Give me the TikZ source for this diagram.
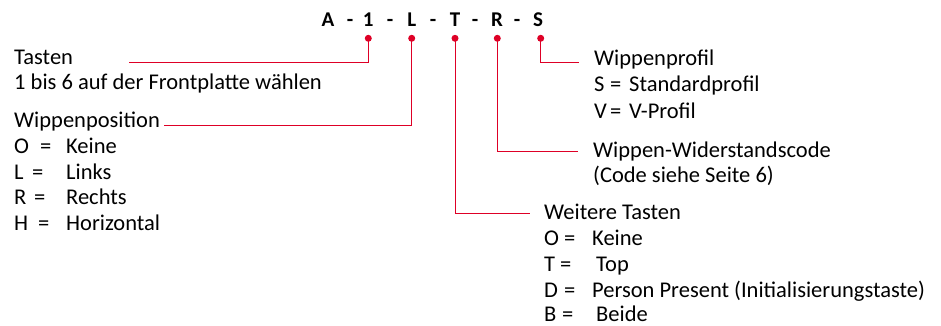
\documentclass[tikz,border=0pt]{standalone}
\usepackage{fontspec}
\setmainfont{Carlito}
\definecolor{codered}{RGB}{222,0,38}
\begin{document}
\begin{tikzpicture}[x=1pt,y=-1pt,
  txt/.style={anchor=base west, inner sep=0pt, font=\fontsize{22.5}{26}\selectfont},
  ttl/.style={anchor=base, inner sep=0pt, font=\fontsize{21}{24}\selectfont\bfseries},
  reddot/.style={circle, fill=codered, inner sep=0pt, minimum size=7pt},
  lead/.style={draw=codered, line width=1pt}]
\useasboundingbox (0,0) rectangle (941,326);
% title code
\node[ttl] (tA) at (328,27) {A};
\node[ttl] (m1) at (350,27) {-};
\node[ttl] (t1) at (368.3,27) {1};
\node[ttl] (m2) at (390,27) {-};
\node[ttl] (tL) at (411.7,27) {L};
\node[ttl] (m3) at (433,27) {-};
\node[ttl] (tT) at (455,27) {T};
\node[ttl] (m4) at (475,27) {-};
\node[ttl] (tR) at (497,27) {R};
\node[ttl] (m5) at (517,27) {-};
\node[ttl] (tS) at (538,27) {S};
% dots
\node[reddot] (d1) at (368.3,38.3) {};
\node[reddot] (d2) at (411.7,38.3) {};
\node[reddot] (d3) at (455,38.3) {};
\node[reddot] (d4) at (497.3,38.3) {};
\node[reddot] (d5) at (540.7,38.3) {};
% line ends
\coordinate (e1) at (129,62.5);
\coordinate (e2) at (164,125.5);
\coordinate (e3) at (530,213);
\coordinate (e4) at (578,151.5);
\coordinate (e5) at (579,62.5);
\draw[lead] (d1.center) |- (e1);
\draw[lead] (d2.center) |- (e2);
\draw[lead] (d3.center) |- (e3);
\draw[lead] (d4.center) |- (e4);
\draw[lead] (d5.center) |- (e5);
% left: Tasten
\node[txt] (tasten) at (14,64.5) {Tasten};
\node[txt] (tasten2) at (14,90) {1 bis 6 auf der Frontplatte wählen};
% left: Wippenposition
\node[txt] (wpos) at (14,128) {Wippenposition};
\node[txt] (wposO) at (14,153.5) {O};
\node[txt] (wposOe) at (40,153.5) {=};
\node[txt] (wposOv) at (66,153.5) {Keine};
\node[txt] (wposL) at (14,179) {L};
\node[txt] (wposLe) at (32,179) {=};
\node[txt] (wposLv) at (66,179) {Links};
\node[txt] (wposR) at (14,204.5) {R};
\node[txt] (wposRe) at (34,204.5) {=};
\node[txt] (wposRv) at (66,204.5) {Rechts};
\node[txt] (wposH) at (14,230) {H};
\node[txt] (wposHe) at (38,230) {=};
\node[txt] (wposHv) at (66,230) {Horizontal};
% right: Wippenprofil
\node[txt] (wprof) at (594,66) {Wippenprofil};
\node[txt] (wprofS) at (594,92) {S};
\node[txt] (wprofSe) at (610,92) {=};
\node[txt] (wprofSv) at (629,92) {Standardprofil};
\node[txt] (wprofV) at (594,118) {V};
\node[txt] (wprofVe) at (610,118) {=};
\node[txt] (wprofVv) at (629,118) {V-Profil};
% right: Widerstandscode
\node[txt] (wwid) at (593,157) {Wippen-Widerstandscode};
\node[txt] (wwid2) at (593,182) {(Code siehe Seite 6)};
% right: Weitere Tasten
\node[txt] (wt) at (544,219) {Weitere Tasten};
\node[txt] (wtO) at (544,245.5) {O};
\node[txt] (wtOe) at (564,245.5) {=};
\node[txt] (wtOv) at (592,245.5) {Keine};
\node[txt] (wtT) at (544,271.5) {T};
\node[txt] (wtTe) at (560,271.5) {=};
\node[txt] (wtTv) at (596,271.5) {Top};
\node[txt] (wtD) at (544,297) {D};
\node[txt] (wtDe) at (564,297) {=};
\node[txt] (wtDv) at (592,297) {Person Present (Initialisierungstaste)};
\node[txt] (wtB) at (544,321.5) {B};
\node[txt] (wtBe) at (562,321.5) {=};
\node[txt] (wtBv) at (596,321.5) {Beide};
\end{tikzpicture}
\end{document}
